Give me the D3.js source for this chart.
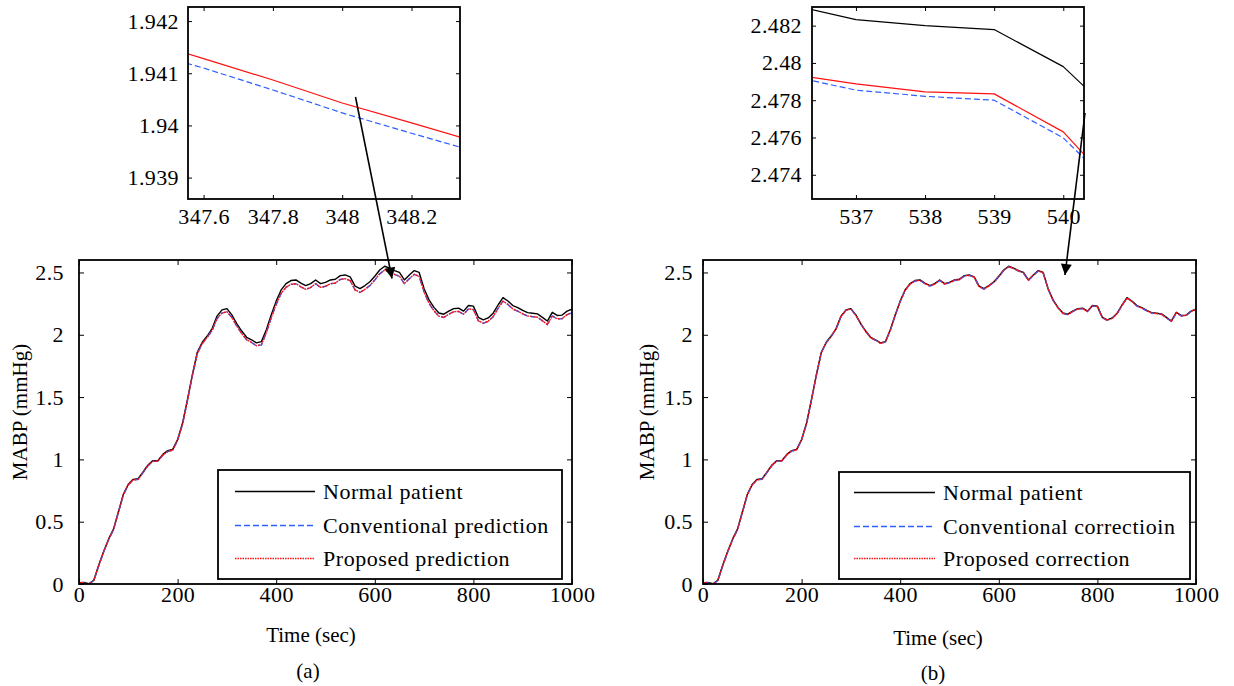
<!DOCTYPE html>
<html><head><meta charset="utf-8">
<script src="https://cdn.jsdelivr.net/npm/d3@7"></script>
<style>
body{margin:0;background:#fff}
svg{display:block}
</style>
</head><body>
<svg id="c" width="1234" height="686"></svg>
<script>
// ---------------- DATA ----------------
const timeSec = [0,10,20,30,40,50,60,70,80,90,100,110,120,130,140,150,160,170,180,190,200,210,220,230,240,250,260,270,280,290,300,310,320,330,340,350,360,370,380,390,400,410,420,430,440,450,460,470,480,490,500,510,520,530,540,550,560,570,580,590,600,610,620,630,640,650,660,670,680,690,700,710,720,730,740,750,760,770,780,790,800,810,820,830,840,850,860,870,880,890,900,910,920,930,940,950,960,970,980,990,1000];

const normalPatient = [0.010,0.012,0.002,0.030,0.150,0.260,0.360,0.440,0.580,0.720,0.800,0.840,0.845,0.900,0.955,0.990,0.990,1.040,1.070,1.080,1.160,1.290,1.480,1.680,1.860,1.940,1.990,2.050,2.150,2.200,2.210,2.160,2.090,2.030,1.980,1.960,1.935,1.945,2.040,2.160,2.270,2.360,2.410,2.435,2.440,2.415,2.395,2.410,2.440,2.410,2.420,2.440,2.445,2.475,2.480,2.465,2.390,2.370,2.395,2.425,2.470,2.520,2.550,2.535,2.515,2.500,2.440,2.480,2.515,2.500,2.370,2.280,2.220,2.175,2.165,2.190,2.210,2.213,2.190,2.235,2.230,2.140,2.120,2.135,2.173,2.239,2.298,2.271,2.234,2.218,2.195,2.178,2.173,2.168,2.140,2.110,2.180,2.155,2.158,2.190,2.205];

// panel (a)
const proposedPrediction = [0.012,0.008,0.000,0.028,0.148,0.258,0.357,0.437,0.577,0.716,0.796,0.836,0.840,0.895,0.950,0.985,0.985,1.034,1.064,1.074,1.153,1.283,1.473,1.674,1.850,1.930,1.980,2.035,2.130,2.175,2.185,2.140,2.070,2.010,1.960,1.939,1.912,1.920,2.018,2.138,2.245,2.332,2.382,2.405,2.410,2.385,2.365,2.380,2.410,2.380,2.390,2.410,2.415,2.445,2.450,2.435,2.360,2.340,2.365,2.395,2.440,2.490,2.520,2.505,2.485,2.470,2.410,2.450,2.485,2.470,2.343,2.253,2.193,2.150,2.140,2.165,2.185,2.188,2.165,2.208,2.203,2.113,2.093,2.108,2.146,2.212,2.270,2.244,2.207,2.190,2.168,2.151,2.146,2.141,2.113,2.082,2.152,2.128,2.130,2.162,2.177];
const conventionalPrediction = [0.010,0.007,-0.001,0.027,0.147,0.257,0.356,0.436,0.576,0.715,0.795,0.835,0.839,0.894,0.949,0.984,0.984,1.033,1.063,1.073,1.152,1.282,1.472,1.673,1.849,1.929,1.979,2.034,2.129,2.174,2.184,2.139,2.069,2.009,1.959,1.938,1.911,1.919,2.017,2.137,2.244,2.331,2.381,2.404,2.409,2.384,2.364,2.379,2.409,2.379,2.389,2.409,2.414,2.444,2.449,2.434,2.359,2.339,2.364,2.394,2.439,2.489,2.519,2.504,2.484,2.469,2.409,2.449,2.484,2.469,2.342,2.252,2.192,2.149,2.139,2.164,2.184,2.187,2.164,2.207,2.202,2.112,2.092,2.107,2.145,2.211,2.269,2.243,2.206,2.189,2.167,2.150,2.145,2.140,2.112,2.081,2.151,2.127,2.129,2.161,2.176];

// panel (b)
const proposedCorrection = [0.007,0.009,-0.001,0.027,0.147,0.257,0.357,0.437,0.577,0.717,0.797,0.837,0.842,0.897,0.952,0.987,0.987,1.037,1.067,1.077,1.157,1.287,1.477,1.677,1.857,1.937,1.987,2.047,2.147,2.197,2.207,2.157,2.087,2.027,1.977,1.957,1.932,1.942,2.037,2.157,2.267,2.357,2.407,2.432,2.437,2.412,2.392,2.407,2.437,2.407,2.417,2.437,2.442,2.472,2.477,2.462,2.387,2.367,2.392,2.422,2.467,2.517,2.547,2.532,2.512,2.497,2.437,2.477,2.512,2.497,2.367,2.277,2.217,2.172,2.162,2.187,2.207,2.210,2.187,2.232,2.227,2.137,2.117,2.132,2.170,2.236,2.295,2.268,2.231,2.215,2.192,2.175,2.170,2.165,2.137,2.107,2.177,2.152,2.155,2.187,2.202];
const conventionalCorrection = [0.006,0.008,-0.002,0.026,0.146,0.256,0.356,0.436,0.576,0.716,0.796,0.836,0.841,0.896,0.951,0.986,0.986,1.036,1.066,1.076,1.156,1.286,1.476,1.676,1.856,1.936,1.986,2.046,2.146,2.196,2.206,2.156,2.086,2.026,1.976,1.956,1.931,1.941,2.036,2.156,2.266,2.356,2.406,2.431,2.436,2.411,2.391,2.406,2.436,2.406,2.416,2.436,2.441,2.471,2.476,2.461,2.386,2.366,2.391,2.421,2.466,2.516,2.546,2.531,2.511,2.496,2.436,2.476,2.511,2.496,2.366,2.276,2.216,2.171,2.161,2.186,2.206,2.209,2.186,2.231,2.226,2.136,2.116,2.131,2.169,2.235,2.294,2.267,2.230,2.214,2.191,2.174,2.169,2.164,2.136,2.106,2.176,2.151,2.154,2.186,2.201];

// zoom inset (a)
const insetATime = [347.5,347.6,347.8,348.0,348.2,348.4];
const insetAProposed = [1.94148,1.94128,1.94087,1.94043,1.94005,1.93966];
const insetAConventional = [1.94129,1.94110,1.94068,1.94024,1.93985,1.93947];

// zoom inset (b)
const insetBTime = [536,537,538,539,540,541];
const insetBNormal = [2.48317,2.48232,2.48200,2.48179,2.47980,2.47630];
const insetBProposed = [2.47943,2.47888,2.47845,2.47834,2.47630,2.47230];
const insetBConventional = [2.47934,2.47854,2.47821,2.47800,2.47598,2.47230];

// ticks
const mainXTicks = [0,200,400,600,800,1000];
const mainXLabels = ["0","200","400","600","800","1000"];
const mainYTicks = [0,0.5,1,1.5,2,2.5];
const mainYLabels = ["0","0.5","1","1.5","2","2.5"];
const insetAXTicks = [347.6,347.8,348,348.2];
const insetAXLabels = ["347.6","347.8","348","348.2"];
const insetAYTicks = [1.939,1.94,1.941,1.942];
const insetAYLabels = ["1.939","1.94","1.941","1.942"];
const insetBXTicks = [537,538,539,540];
const insetBXLabels = ["537","538","539","540"];
const insetBYTicks = [2.474,2.476,2.478,2.48,2.482];
const insetBYLabels = ["2.474","2.476","2.478","2.48","2.482"];

const legendA = ["Normal patient","Conventional prediction","Proposed prediction"];
const legendB = ["Normal patient","Conventional correctioin","Proposed correction"];

// ---------------- DRAWING ----------------
const BLACK = "#000", BLUE = "#2f5fff", RED = "#ff1010";
const FONT = '"Liberation Serif", "Times New Roman", Times, serif';
const FS = 22;
const svg = d3.select("#c");
const defs = svg.append("defs");
defs.append("marker").attr("id","arrow").attr("viewBox","0 0 10 10")
  .attr("refX",10).attr("refY",5).attr("markerWidth",14).attr("markerHeight",11)
  .attr("markerUnits","userSpaceOnUse").attr("orient","auto")
  .append("path").attr("d","M0,0 L10,5 L0,10 z").attr("fill","#000");

let clipId = 0;
function panel(cfg) {
  const w = cfg.right - cfg.left, h = cfg.bottom - cfg.top;
  const g = svg.append("g").attr("transform", `translate(${cfg.left},${cfg.top})`);
  const x = d3.scaleLinear().domain(cfg.xDomain).range([0, w]);
  const y = d3.scaleLinear().domain(cfg.yDomain).range([h, 0]);
  const cid = "clip" + (clipId++);
  defs.append("clipPath").attr("id", cid).append("rect").attr("width", w).attr("height", h);
  const lg = g.append("g").attr("clip-path", `url(#${cid})`);
  cfg.series.forEach(s => {
    const line = d3.line().x((d, i) => x(s.x[i])).y(d => y(d));
    lg.append("path").datum(s.y).attr("d", line).attr("fill", "none")
      .attr("stroke", s.color).attr("stroke-width", s.width || 1.4)
      .attr("stroke-dasharray", s.dash || null).attr("stroke-linejoin","round");
  });
  const tl = cfg.tickLen || 5;
  const style = sel => {
    sel.select(".domain").remove();
    sel.attr("font-size", FS).attr("font-family", null);
    sel.selectAll(".tick line").attr("stroke", "#000").attr("stroke-width", 1);
    sel.selectAll(".tick text").style("font-family", FONT).style("font-size", FS + "px")
      .style("letter-spacing", "0.4px").attr("fill", "#000");
  };
  g.append("g").attr("transform", `translate(0,${h})`)
    .call(d3.axisBottom(x).tickValues(cfg.xTicks).tickFormat((d, i) => cfg.xLabels[i])
      .tickSizeInner(-tl).tickSizeOuter(0).tickPadding(cfg.xPad)).call(style);
  g.append("g")
    .call(d3.axisTop(x).tickValues(cfg.xTicks).tickFormat("")
      .tickSizeInner(-tl).tickSizeOuter(0)).call(style);
  g.append("g")
    .call(d3.axisLeft(y).tickValues(cfg.yTicks).tickFormat((d, i) => cfg.yLabels[i])
      .tickSizeInner(-tl).tickSizeOuter(0).tickPadding(cfg.yPad)).call(style);
  g.append("g").attr("transform", `translate(${w},0)`)
    .call(d3.axisRight(y).tickValues(cfg.yTicks).tickFormat("")
      .tickSizeInner(-tl).tickSizeOuter(0)).call(style);
  g.append("rect").attr("width", w).attr("height", h).attr("fill", "none")
    .attr("stroke", "#000").attr("stroke-width", 1.8);
  return {g, x, y};
}

function legend(cfg) {
  const g = svg.append("g");
  g.append("rect").attr("x", cfg.x0).attr("y", cfg.y0).attr("width", cfg.x1 - cfg.x0)
    .attr("height", cfg.y1 - cfg.y0).attr("fill", "#fff").attr("stroke", "#000").attr("stroke-width", 1.8);
  cfg.items.forEach((it, i) => {
    const yy = cfg.rows[i];
    g.append("line").attr("x1", cfg.lx0).attr("x2", cfg.lx1).attr("y1", yy).attr("y2", yy)
      .attr("stroke", it.color).attr("stroke-width", 1.4).attr("stroke-dasharray", it.dash || null);
    g.append("text").attr("x", cfg.tx).attr("y", yy + 7)
      .style("font-family", FONT).style("font-size", FS + "px").style("letter-spacing", "0.55px")
      .attr("fill", "#000").text(it.label);
  });
}

// ----- main (a)
panel({
  left: 79, right: 572, top: 260, bottom: 584,
  xDomain: [0, 1000], yDomain: [0, 2.6],
  xTicks: mainXTicks, xLabels: mainXLabels, yTicks: mainYTicks, yLabels: mainYLabels,
  xPad: 2, yPad: 15,
  series: [
    {x: timeSec, y: normalPatient, color: BLACK},
    {x: timeSec, y: conventionalPrediction, color: BLUE, dash: "6,3"},
    {x: timeSec, y: proposedPrediction, color: RED, dash: "2,1"}
  ]
});
legend({x0: 218, x1: 562, y0: 470, y1: 579, lx0: 235, lx1: 315, tx: 323, rows: [491.5, 525.5, 558.5],
  items: [{label: legendA[0], color: BLACK}, {label: legendA[1], color: BLUE, dash: "6,3"}, {label: legendA[2], color: RED, dash: "1.5,1"}]});

// ----- main (b)
panel({
  left: 703, right: 1196, top: 260, bottom: 584,
  xDomain: [0, 1000], yDomain: [0, 2.6],
  xTicks: mainXTicks, xLabels: mainXLabels, yTicks: mainYTicks, yLabels: mainYLabels,
  xPad: 2, yPad: 10,
  series: [
    {x: timeSec, y: normalPatient, color: BLACK},
    {x: timeSec, y: conventionalCorrection, color: BLUE, dash: "6,3"},
    {x: timeSec, y: proposedCorrection, color: RED, dash: "2,1"}
  ]
});
legend({x0: 839, x1: 1190, y0: 472, y1: 579, lx0: 854, lx1: 935, tx: 943, rows: [492.5, 526.5, 558.5],
  items: [{label: legendB[0], color: BLACK}, {label: legendB[1], color: BLUE, dash: "6,3"}, {label: legendB[2], color: RED, dash: "1.5,1"}]});

// ----- inset (a)
panel({
  left: 188, right: 460, top: 7, bottom: 199,
  xDomain: [347.555, 348.34], yDomain: [1.93859, 1.94227],
  xTicks: insetAXTicks, xLabels: insetAXLabels, yTicks: insetAYTicks, yLabels: insetAYLabels,
  xPad: 9, yPad: 9, tickLen: 4,
  series: [
    {x: insetATime, y: insetAConventional, color: BLUE, dash: "6,3", width: 1.2},
    {x: insetATime, y: insetAProposed, color: RED, width: 1.2}
  ]
});

// ----- inset (b)
panel({
  left: 812, right: 1084, top: 7, bottom: 199,
  xDomain: [536.364, 540.30], yDomain: [2.4727, 2.483],
  xTicks: insetBXTicks, xLabels: insetBXLabels, yTicks: insetBYTicks, yLabels: insetBYLabels,
  xPad: 9, yPad: 10, tickLen: 4,
  series: [
    {x: insetBTime, y: insetBNormal, color: BLACK, width: 1.2},
    {x: insetBTime, y: insetBConventional, color: BLUE, dash: "6,3", width: 1.2},
    {x: insetBTime, y: insetBProposed, color: RED, width: 1.2}
  ]
});

// ----- arrows
svg.append("line").attr("x1", 355.5).attr("y1", 97).attr("x2", 392).attr("y2", 278.5)
  .attr("stroke", "#000").attr("stroke-width", 1.6).attr("marker-end", "url(#arrow)");
svg.append("line").attr("x1", 1085).attr("y1", 113).attr("x2", 1065).attr("y2", 275)
  .attr("stroke", "#000").attr("stroke-width", 1.6).attr("marker-end", "url(#arrow)");

// ----- axis titles and captions
function label(txt, x, y, rot) {
  const t = svg.append("text").attr("text-anchor", "middle")
    .style("font-family", FONT).style("font-size", "21px").attr("fill", "#000").text(txt);
  if (rot) t.attr("transform", `translate(${x},${y}) rotate(-90)`);
  else t.attr("x", x).attr("y", y);
}
label("MABP (mmHg)", 27, 412, true);
label("MABP (mmHg)", 654, 412, true);
label("Time (sec)", 311, 642);
label("Time (sec)", 938, 645);
label("(a)", 308, 678);
label("(b)", 933, 680);
</script>
</body></html>
